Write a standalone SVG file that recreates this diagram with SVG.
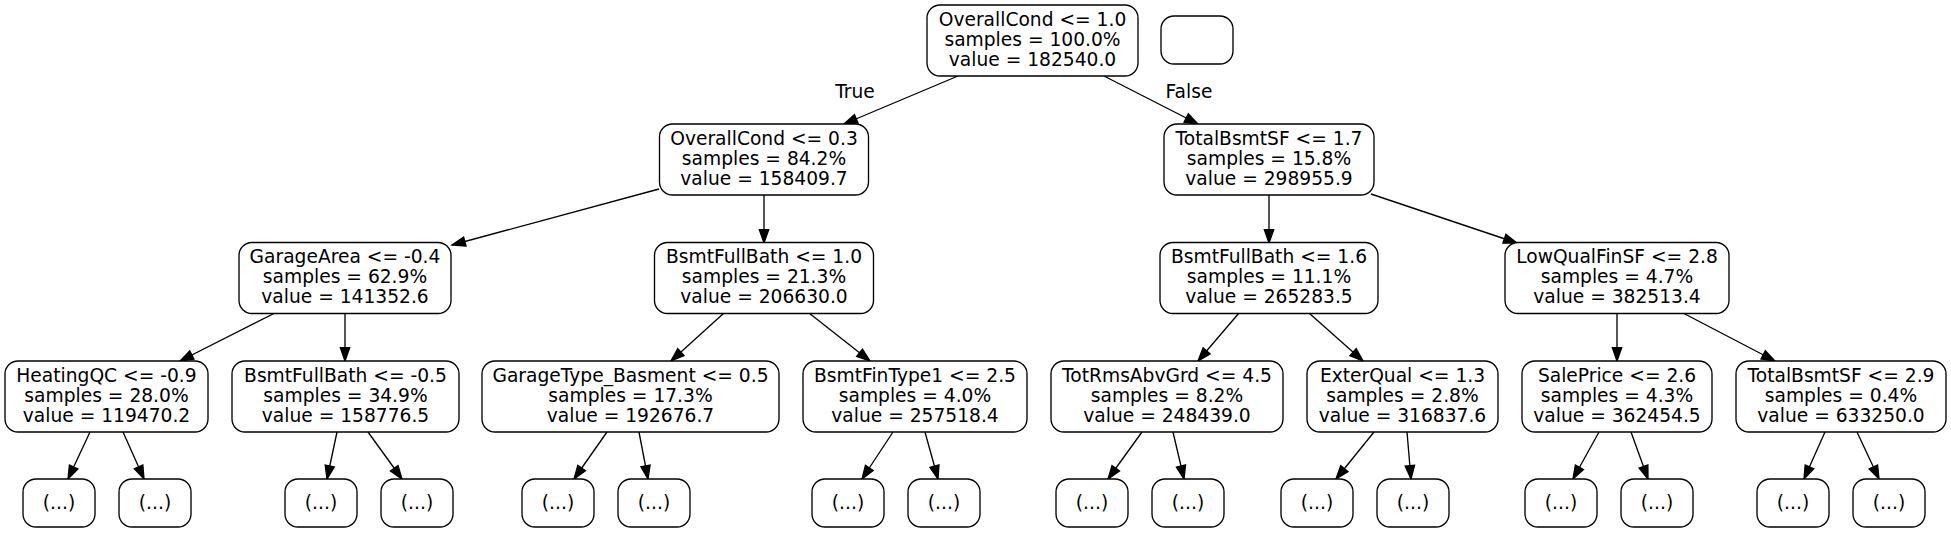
<svg xmlns="http://www.w3.org/2000/svg" width="1951" height="533" viewBox="0 0 1951 533">
<style>
.n rect{fill:#fff;stroke:#000;stroke-width:1.33}
text{font-family:"DejaVu Sans","Liberation Sans",sans-serif;font-size:18.67px;fill:#000;text-anchor:middle}
.e line{stroke:#000;stroke-width:1.33;marker-end:url(#ah)}
</style>
<defs>
<marker id="ah" markerUnits="userSpaceOnUse" markerWidth="16" markerHeight="12" refX="13.3" refY="4.67" orient="auto" overflow="visible">
<path d="M0,0 L13.3,4.67 L0,9.33 Z" fill="#000" stroke="#000" stroke-width="1.33"/>
</marker>
</defs>
<rect width="1951" height="533" fill="#fff"/>
<g id="edges" class="e">
<line x1="958" y1="76" x2="844" y2="124"/>
<line x1="1104" y1="76" x2="1198" y2="124"/>
<line x1="659" y1="189" x2="452" y2="245"/>
<line x1="764" y1="195" x2="764" y2="243"/>
<line x1="1269" y1="195" x2="1269" y2="243"/>
<line x1="1371" y1="194" x2="1517" y2="243"/>
<line x1="275" y1="313" x2="180" y2="361"/>
<line x1="345" y1="313" x2="345" y2="361"/>
<line x1="724" y1="313" x2="671" y2="361"/>
<line x1="809" y1="313" x2="870" y2="361"/>
<line x1="1239" y1="313" x2="1198" y2="361"/>
<line x1="1309" y1="313" x2="1363" y2="361"/>
<line x1="1617" y1="313" x2="1617" y2="361"/>
<line x1="1683" y1="313" x2="1775" y2="361"/>
<line x1="90" y1="432" x2="68" y2="479"/>
<line x1="123" y1="432" x2="144" y2="479"/>
<line x1="337" y1="432" x2="327" y2="479"/>
<line x1="368" y1="432" x2="402" y2="479"/>
<line x1="607" y1="432" x2="574" y2="479"/>
<line x1="639" y1="432" x2="648" y2="479"/>
<line x1="893" y1="432" x2="862" y2="479"/>
<line x1="925" y1="432" x2="938" y2="479"/>
<line x1="1142" y1="432" x2="1108" y2="479"/>
<line x1="1173" y1="432" x2="1184" y2="479"/>
<line x1="1374" y1="432" x2="1336" y2="479"/>
<line x1="1407" y1="432" x2="1411" y2="479"/>
<line x1="1599" y1="432" x2="1573" y2="479"/>
<line x1="1631" y1="432" x2="1648" y2="479"/>
<line x1="1825" y1="432" x2="1804" y2="479"/>
<line x1="1857" y1="432" x2="1879" y2="479"/>
<text x="855" y="98">True</text>
<text x="1189" y="98">False</text>
</g>
<g id="root" class="n"><rect x="927" y="5" width="211" height="71" rx="13"/><text x="1032.5" y="25.8">OverallCond &lt;= 1.0</text><text x="1032.5" y="45.8">samples = 100.0%</text><text x="1032.5" y="65.8">value = 182540.0</text></g>
<g id="legend" class="n"><rect x="1161" y="16" width="72" height="48" rx="13"/></g>
<g id="n1" class="n"><rect x="659.5" y="124" width="209" height="71" rx="13"/><text x="764" y="144.8">OverallCond &lt;= 0.3</text><text x="764" y="164.8">samples = 84.2%</text><text x="764" y="184.8">value = 158409.7</text></g>
<g id="n2" class="n"><rect x="1164" y="124" width="210" height="71" rx="13"/><text x="1269" y="144.8">TotalBsmtSF &lt;= 1.7</text><text x="1269" y="164.8">samples = 15.8%</text><text x="1269" y="184.8">value = 298955.9</text></g>
<g id="n3" class="n"><rect x="239" y="242.5" width="212" height="71" rx="13"/><text x="345" y="263.3">GarageArea &lt;= -0.4</text><text x="345" y="283.3">samples = 62.9%</text><text x="345" y="303.3">value = 141352.6</text></g>
<g id="n4" class="n"><rect x="654.5" y="242.5" width="219" height="71" rx="13"/><text x="764" y="263.3">BsmtFullBath &lt;= 1.0</text><text x="764" y="283.3">samples = 21.3%</text><text x="764" y="303.3">value = 206630.0</text></g>
<g id="n5" class="n"><rect x="1160" y="242.5" width="218" height="71" rx="13"/><text x="1269" y="263.3">BsmtFullBath &lt;= 1.6</text><text x="1269" y="283.3">samples = 11.1%</text><text x="1269" y="303.3">value = 265283.5</text></g>
<g id="n6" class="n"><rect x="1505" y="242.5" width="224" height="71" rx="13"/><text x="1617" y="263.3">LowQualFinSF &lt;= 2.8</text><text x="1617" y="283.3">samples = 4.7%</text><text x="1617" y="303.3">value = 382513.4</text></g>
<g id="n7" class="n"><rect x="5" y="361" width="203" height="71" rx="13"/><text x="106.5" y="381.8">HeatingQC &lt;= -0.9</text><text x="106.5" y="401.8">samples = 28.0%</text><text x="106.5" y="421.8">value = 119470.2</text></g>
<g id="n8" class="n"><rect x="232" y="361" width="227" height="71" rx="13"/><text x="345.5" y="381.8">BsmtFullBath &lt;= -0.5</text><text x="345.5" y="401.8">samples = 34.9%</text><text x="345.5" y="421.8">value = 158776.5</text></g>
<g id="n9" class="n"><rect x="482" y="361" width="297" height="71" rx="13"/><text x="630.5" y="381.8">GarageType_Basment &lt;= 0.5</text><text x="630.5" y="401.8">samples = 17.3%</text><text x="630.5" y="421.8">value = 192676.7</text></g>
<g id="n10" class="n"><rect x="803" y="361" width="224" height="71" rx="13"/><text x="915" y="381.8">BsmtFinType1 &lt;= 2.5</text><text x="915" y="401.8">samples = 4.0%</text><text x="915" y="421.8">value = 257518.4</text></g>
<g id="n11" class="n"><rect x="1051" y="361" width="232" height="71" rx="13"/><text x="1167" y="381.8">TotRmsAbvGrd &lt;= 4.5</text><text x="1167" y="401.8">samples = 8.2%</text><text x="1167" y="421.8">value = 248439.0</text></g>
<g id="n12" class="n"><rect x="1307" y="361" width="191" height="71" rx="13"/><text x="1402.5" y="381.8">ExterQual &lt;= 1.3</text><text x="1402.5" y="401.8">samples = 2.8%</text><text x="1402.5" y="421.8">value = 316837.6</text></g>
<g id="n13" class="n"><rect x="1522" y="361" width="190" height="71" rx="13"/><text x="1617" y="381.8">SalePrice &lt;= 2.6</text><text x="1617" y="401.8">samples = 4.3%</text><text x="1617" y="421.8">value = 362454.5</text></g>
<g id="n14" class="n"><rect x="1736" y="361" width="210" height="71" rx="13"/><text x="1841" y="381.8">TotalBsmtSF &lt;= 2.9</text><text x="1841" y="401.8">samples = 0.4%</text><text x="1841" y="421.8">value = 633250.0</text></g>
<g id="l1" class="n"><rect x="23" y="479" width="72" height="48" rx="13"/><text x="59" y="509">(...)</text></g>
<g id="l2" class="n"><rect x="119" y="479" width="72" height="48" rx="13"/><text x="155" y="509">(...)</text></g>
<g id="l3" class="n"><rect x="285" y="479" width="72" height="48" rx="13"/><text x="321" y="509">(...)</text></g>
<g id="l4" class="n"><rect x="381" y="479" width="72" height="48" rx="13"/><text x="417" y="509">(...)</text></g>
<g id="l5" class="n"><rect x="522" y="479" width="72" height="48" rx="13"/><text x="558" y="509">(...)</text></g>
<g id="l6" class="n"><rect x="618" y="479" width="72" height="48" rx="13"/><text x="654" y="509">(...)</text></g>
<g id="l7" class="n"><rect x="812" y="479" width="72" height="48" rx="13"/><text x="848" y="509">(...)</text></g>
<g id="l8" class="n"><rect x="908" y="479" width="72" height="48" rx="13"/><text x="944" y="509">(...)</text></g>
<g id="l9" class="n"><rect x="1056" y="479" width="72" height="48" rx="13"/><text x="1092" y="509">(...)</text></g>
<g id="l10" class="n"><rect x="1152" y="479" width="72" height="48" rx="13"/><text x="1188" y="509">(...)</text></g>
<g id="l11" class="n"><rect x="1281" y="479" width="72" height="48" rx="13"/><text x="1317" y="509">(...)</text></g>
<g id="l12" class="n"><rect x="1377" y="479" width="72" height="48" rx="13"/><text x="1413" y="509">(...)</text></g>
<g id="l13" class="n"><rect x="1525" y="479" width="72" height="48" rx="13"/><text x="1561" y="509">(...)</text></g>
<g id="l14" class="n"><rect x="1621" y="479" width="72" height="48" rx="13"/><text x="1657" y="509">(...)</text></g>
<g id="l15" class="n"><rect x="1757" y="479" width="72" height="48" rx="13"/><text x="1793" y="509">(...)</text></g>
<g id="l16" class="n"><rect x="1853" y="479" width="72" height="48" rx="13"/><text x="1889" y="509">(...)</text></g>
</svg>
